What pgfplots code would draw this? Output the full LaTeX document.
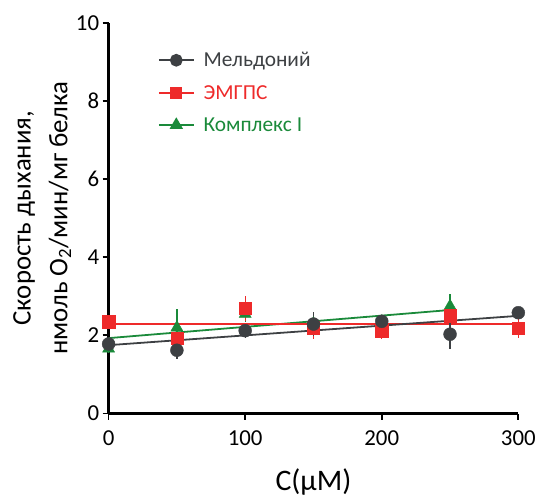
\documentclass[border=0pt]{standalone}
\usepackage{pgfplots}
\pgfplotsset{compat=1.18}
\usepackage{fontspec}
\setmainfont{Carlito}
\definecolor{cgray}{HTML}{3D4043}
\definecolor{cred}{HTML}{EE2A2A}
\definecolor{cgreen}{HTML}{1A8A3A}
\begin{document}
\begin{tikzpicture}
\begin{axis}[
  scale only axis,
  width=411bp, height=392bp,
  xmin=0, xmax=300, ymin=0, ymax=10,
  axis x line=bottom, axis y line=left,
  axis line style={-, line width=2.4pt, black},
  xtick={0,100,200,300}, ytick={0,2,4,6,8,10},
  tick align=outside,
  major tick length=6bp,
  tick style={line width=1.8pt, black},
  /pgf/number format/assume math mode=true,
  ticklabel style={font=\fontsize{23}{25}\selectfont},
  xticklabel style={yshift=-8bp},
  xlabel={C(μM)},
  ylabel={Скорость дыхания,\\нмоль O\textsubscript{2}/мин/мг белка},
  xlabel style={font=\fontsize{30}{32}\selectfont, yshift=-16bp},
  ylabel style={font=\fontsize{27}{37}\selectfont, align=center, yshift=-2bp},
  clip=false,
  legend style={draw=none, fill=none, at={(0.12,0.93)}, anchor=north west,
    font=\fontsize{21.5}{23}\selectfont, row sep=13bp, inner sep=0pt},
  legend cell align=left,
  legend image code/.code={
    \draw[#1, line width=1.8pt] (0bp,0bp) -- (35bp,0bp);
    \draw[#1, only marks] plot coordinates {(17.5bp,0bp)};
    \path (42bp,0bp);
  },
]
\addlegendimage{cgray, mark=*, mark size=5.5bp, line width=1.8pt}
\addlegendentry[text=cgray]{Мельдоний}
\addlegendimage{cred, mark=square*, mark size=5bp, line width=1.8pt}
\addlegendentry[text=cred]{ЭМГПС}
\addlegendimage{cgreen, mark=triangle*, mark size=6bp, line width=1.8pt}
\addlegendentry[text=cgreen]{Комплекс I}

% regression lines
\addplot[forget plot, cgreen, line width=1.8pt] coordinates {(0,1.93) (250,2.65)};
\addplot[forget plot, cred, line width=1.8pt] coordinates {(0,2.29) (300,2.29)};
\addplot[forget plot, cgray, line width=1.8pt] coordinates {(0,1.75) (300,2.50)};

% Комплекс I
\addplot[forget plot, only marks, cgreen, mark=triangle*, mark size=7bp,
  error bars/.cd, y dir=both, y explicit, error mark=none,
  error bar style={line width=1.3pt, cgreen}]
  coordinates {
  (0,1.66) +- (0,0.1)
  (50,2.20) +- (0,0.48)
  (100,2.55) +- (0,0.2)
  (150,2.30) +- (0,0.2)
  (200,2.35) +- (0,0.15)
  (250,2.75) +- (0,0.32)
  };
% ЭМГПС
\addplot[forget plot, only marks, cred, mark=square*, mark size=6.2bp,
  error bars/.cd, y dir=both, y explicit, error mark=none,
  error bar style={line width=1.3pt, cred}]
  coordinates {
  (0,2.35) +- (0,0.08)
  (50,1.93) +- (0,0.12)
  (100,2.70) +- (0,0.32)
  (150,2.20) +- (0,0.28)
  (200,2.12) +- (0,0.2)
  (250,2.50) +- (0,0.2)
  (300,2.19) +- (0,0.25)
  };
% Мельдоний
\addplot[forget plot, only marks, cgray, mark=*, mark size=6.5bp,
  error bars/.cd, y dir=both, y explicit, error mark=none,
  error bar style={line width=1.3pt, cgray}]
  coordinates {
  (0,1.78) +- (0,0.08)
  (50,1.62) +- (0,0.22)
  (100,2.12) +- (0,0.18)
  (150,2.29) +- (0,0.3)
  (200,2.36) +- (0,0.15)
  (250,2.03) +- (0,0.38)
  (300,2.58) +- (0,0.08)
  };
\end{axis}
\path ([shift={(-10bp,12bp)}]current bounding box.north west);
\end{tikzpicture}
\end{document}
